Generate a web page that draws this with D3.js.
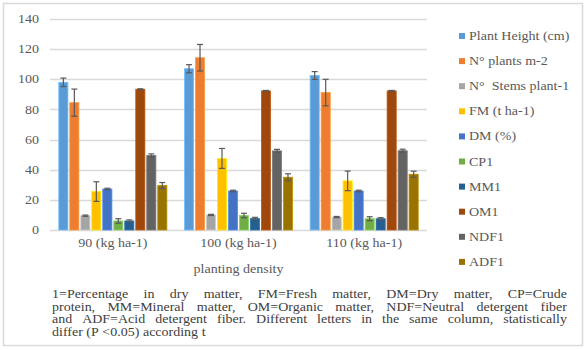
<!DOCTYPE html>
<html><head><meta charset="utf-8">
<script src="https://cdn.jsdelivr.net/npm/d3@7"></script>
<style>body{margin:0;background:#fff}svg{display:block}
svg text{font-family:"Liberation Serif","Times New Roman",Times,serif;}</style>
</head><body>
<script>
const groups = ["90 (kg ha-1)", "100 (kg ha-1)", "110 (kg ha-1)"];
const seriesNames = ["Plant Height (cm)", "N° plants m-2", "N°  Stems plant-1", "FM (t ha-1)", "DM (%)", "CP1", "MM1", "OM1", "NDF1", "ADF1"];
const seriesColors = ["#5B9BD5", "#ED7D31", "#A5A5A5", "#FFC000", "#4472C4", "#70AD47", "#255E91", "#9E480E", "#636363", "#997300"];
// values per series, for the 3 groups
const values = [
  [98, 107, 102.5],
  [84.5, 114.3, 91.2],
  [9.5, 10, 8.6],
  [25.5, 47.5, 32.6],
  [27.2, 25.9, 25.9],
  [6, 9.6, 7.5],
  [6, 7.7, 7.5],
  [93.4, 92.3, 92.3],
  [49.5, 52.5, 52.6],
  [29.5, 35, 37]
];
const errors = [
  [2.8, 2.7, 2.6],
  [9, 8.8, 8.8],
  [0.4, 0.4, 0.4],
  [6.5, 6.6, 6.5],
  [0.5, 0.5, 0.5],
  [1.5, 1.5, 1.3],
  [0.7, 0.7, 0.7],
  [0.3, 0.3, 0.3],
  [1, 1, 1],
  [2, 2.3, 2]
];
const yTicks = [0, 20, 40, 60, 80, 100, 120, 140];
const xTitle = "planting density";
const footnoteLines = [
  "1=Percentage in dry matter, FM=Fresh matter, DM=Dry matter, CP=Crude",
  "protein, MM=Mineral matter, OM=Organic matter, NDF=Neutral detergent fiber",
  "and ADF=Acid detergent fiber. Different letters in the same column, statistically",
  "differ (P <0.05) according t"
];

const W = 587, H = 350;
const SX = 1.22; // horizontal stretch of the reference's text
const svg = d3.select("body").append("svg").attr("width", W).attr("height", H);

svg.append("rect").attr("x", 3.5).attr("y", 3.5).attr("width", 579).attr("height", 342)
  .attr("fill", "#fff").attr("stroke", "#d9d9d9").attr("stroke-width", 1.5);

const plot = {left: 50, right: 427, top: 19, bottom: 230};
const y = d3.scaleLinear().domain([0, 140]).range([plot.bottom, plot.top]);
const x0 = d3.scaleBand().domain(groups).range([plot.left, plot.right]).paddingInner(0.14).paddingOuter(0.07);
const x1 = d3.scaleBand().domain(d3.range(seriesNames.length)).range([0, x0.bandwidth()]).paddingInner(0.17);

// gridlines
svg.append("g").selectAll("line").data(yTicks).join("line")
  .attr("x1", plot.left).attr("x2", plot.right)
  .attr("y1", d => Math.round(y(d)) + 0.5).attr("y2", d => Math.round(y(d)) + 0.5)
  .attr("stroke", "#d9d9d9").attr("stroke-width", 1.3);

// y axis labels
const yAxis = d3.axisLeft(y).tickValues(yTicks).tickSize(0).tickPadding(0);
const ya = svg.append("g").attr("transform", `translate(39,0)`).call(yAxis);
ya.select(".domain").remove();
ya.attr("font-family", null);
ya.selectAll("text").attr("font-size", 11.5).attr("fill", "#595959").attr("transform", `scale(${SX},1)`);

// bars
const bars = svg.append("g");
seriesNames.forEach((s, si) => {
  groups.forEach((g, gi) => {
    const v = values[si][gi];
    const bx = x0(g) + x1(si);
    bars.append("rect").attr("x", bx).attr("y", y(v)).attr("width", x1.bandwidth())
      .attr("height", y(0) - y(v)).attr("fill", seriesColors[si])
      .attr("stroke", d3.color(seriesColors[si]).brighter(0.6)).attr("stroke-width", 0.8);
  });
});
// error bars
const eb = svg.append("g").attr("stroke", "#595959").attr("stroke-width", 1.2);
seriesNames.forEach((s, si) => {
  groups.forEach((g, gi) => {
    const v = values[si][gi], e = errors[si][gi];
    const cx = x0(g) + x1(si) + x1.bandwidth() / 2;
    eb.append("line").attr("x1", cx).attr("x2", cx).attr("y1", y(v + e)).attr("y2", y(v - e));
    eb.append("line").attr("x1", cx - 3).attr("x2", cx + 3).attr("y1", y(v + e)).attr("y2", y(v + e));
    eb.append("line").attr("x1", cx - 3).attr("x2", cx + 3).attr("y1", y(v - e)).attr("y2", y(v - e));
  });
});

// x axis labels
const xAxis = d3.axisBottom(x0).tickSize(0).tickPadding(9);
const xa = svg.append("g").attr("transform", `translate(0,${plot.bottom})`).call(xAxis);
xa.select(".domain").remove();
xa.attr("font-family", null);
xa.selectAll("text").attr("font-size", 11.5).attr("fill", "#595959")
  .attr("transform", `scale(${SX},1)`);

svg.append("text").attr("transform", `translate(${(plot.left + plot.right) / 2},273) scale(${SX},1)`)
  .attr("text-anchor", "middle")
  .attr("font-size", 11.5).attr("fill", "#595959").text(xTitle);

// legend
const leg = svg.append("g");
seriesNames.forEach((s, i) => {
  const ly = 36 + i * 25.1;
  leg.append("rect").attr("x", 459).attr("y", ly - 3).attr("width", 6).attr("height", 6).attr("fill", seriesColors[i]);
  leg.append("text").attr("transform", `translate(469,${ly + 4}) scale(${SX},1)`).attr("font-size", 11.5)
    .attr("fill", "#595959").style("white-space", "pre").text(s);
});

// footnote, justified word by word
const fnLeft = 52, fnRight = 567, fs = 11.5, lineH = 12.6, fnTop = 298;
const fnLastRight = 205;
const fn = svg.append("g").attr("font-size", fs).attr("fill", "#404040");
function wlen(w) { const t = fn.append("text").text(w); const l = t.node().getComputedTextLength(); t.remove(); return l; }
const spaceW = wlen("a a") - wlen("aa");
const FX = (fnLastRight - fnLeft) / wlen(footnoteLines[footnoteLines.length - 1]);
footnoteLines.forEach((line, li) => {
  const ln = line.split(" ");
  const ly = fnTop + li * lineH;
  const widths = ln.map(w => wlen(w) * FX);
  const total = d3.sum(widths);
  const last = li === footnoteLines.length - 1;
  const gap = (!last && ln.length > 1) ? (fnRight - fnLeft - total) / (ln.length - 1) : spaceW * FX;
  let xx = fnLeft;
  ln.forEach((w, wi) => {
    fn.append("text").attr("transform", `translate(${xx},${ly}) scale(${FX},1)`).text(w);
    xx += widths[wi] + gap;
  });
});
</script>
</body></html>
